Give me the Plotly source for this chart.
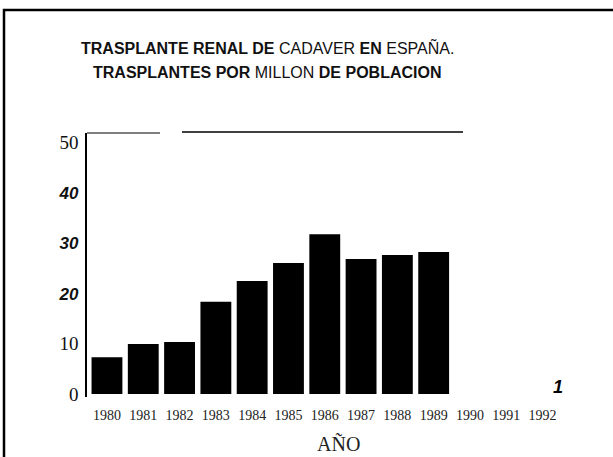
import plotly.graph_objects as go

years = ["1980", "1981", "1982", "1983", "1984", "1985", "1986",
         "1987", "1988", "1989", "1990", "1991", "1992"]
bar_years = ["1980", "1981", "1982", "1983", "1984", "1985", "1986",
             "1987", "1988", "1989"]
trasplantes_pmp = [7.3, 9.9, 10.3, 18.3, 22.4, 26.0, 31.7, 26.8, 27.6, 28.2]

y_tickvals = [0, 10, 20, 30, 40, 50]
sans_tick = '<b><i><span style="font-family:Liberation Sans;font-size:17px">{}</span></i></b>'
y_ticktext = ["0", "10", sans_tick.format("20"), sans_tick.format("30"),
              sans_tick.format("40"), "50"]

title_line1 = "<b>TRASPLANTE RENAL DE</b> CADAVER <b>EN</b> ESPAÑA."
title_line2 = "<b>TRASPLANTES POR</b> MILLON <b>DE POBLACION</b>"
x_title = "AÑO"

fig = go.Figure()
fig.add_trace(go.Bar(
    x=bar_years, y=trasplantes_pmp,
    marker=dict(color="#000000", line=dict(width=0)),
    hoverinfo="x+y",
))

W, H = 613, 457
L, R, T, B = 87, 53, 133, 60
pw, ph = W - L - R, H - T - B

def px_x(px):
    return (px - L) / pw

def px_y(py):
    return (H - B - py) / ph

fig.update_layout(
    width=W, height=H,
    margin=dict(l=L, r=R, t=T, b=B, autoexpand=False),
    paper_bgcolor="white", plot_bgcolor="white",
    showlegend=False,
    bargap=0.15,
    font=dict(family="Liberation Serif", color="#111111"),
    xaxis=dict(
        type="category",
        categoryorder="array", categoryarray=years,
        tickmode="array", tickvals=years, ticktext=years,
        range=[-0.55, 12.48],
        showline=False, showgrid=False, zeroline=False,
        ticks="", tickfont=dict(family="Liberation Serif", size=14, color="#222222"),
        ticklabelstandoff=8,
        fixedrange=True,
    ),
    yaxis=dict(
        range=[-0.6, 51.8],
        tickmode="array", tickvals=y_tickvals, ticktext=y_ticktext,
        showline=True, linecolor="#000000", linewidth=1.5,
        showgrid=False, zeroline=False,
        ticks="", tickfont=dict(family="Liberation Serif", size=19, color="#111111"),
        ticklabelstandoff=3,
        fixedrange=True,
    ),
)

# outer frame
fig.add_shape(type="rect", xref="paper", yref="paper",
              x0=px_x(4), x1=px_x(625), y0=px_y(470), y1=px_y(10),
              line=dict(color="#000000", width=2.5), fillcolor="rgba(0,0,0,0)")
# broken top line of the plot box
fig.add_shape(type="line", xref="paper", yref="paper",
              x0=px_x(87), x1=px_x(160), y0=px_y(133), y1=px_y(133),
              line=dict(color="#000000", width=1.2))
fig.add_shape(type="line", xref="paper", yref="paper",
              x0=px_x(182), x1=px_x(463), y0=px_y(132), y1=px_y(132),
              line=dict(color="#000000", width=1.5))

fig.add_annotation(text=title_line1, xref="paper", yref="paper",
                   x=px_x(267), y=px_y(47), xanchor="center", yanchor="middle",
                   showarrow=False,
                   font=dict(family="Liberation Sans", size=16, color="#111111"))
fig.add_annotation(text=title_line2, xref="paper", yref="paper",
                   x=px_x(267), y=px_y(72), xanchor="center", yanchor="middle",
                   showarrow=False,
                   font=dict(family="Liberation Sans", size=16, color="#111111"))
fig.add_annotation(text=x_title, xref="paper", yref="paper",
                   x=px_x(338), y=px_y(443), xanchor="center", yanchor="middle",
                   showarrow=False,
                   font=dict(family="Liberation Serif", size=20, color="#222222"))
fig.add_annotation(text="<b><i>1</i></b>", xref="paper", yref="paper",
                   x=px_x(558), y=px_y(387), xanchor="center", yanchor="middle",
                   showarrow=False,
                   font=dict(family="Liberation Sans", size=18, color="#000000"))

fig.write_html(
    "out.html",
    config={"displayModeBar": False},
    post_script="document.body.style.margin='0';document.body.style.overflow='hidden';",
)
